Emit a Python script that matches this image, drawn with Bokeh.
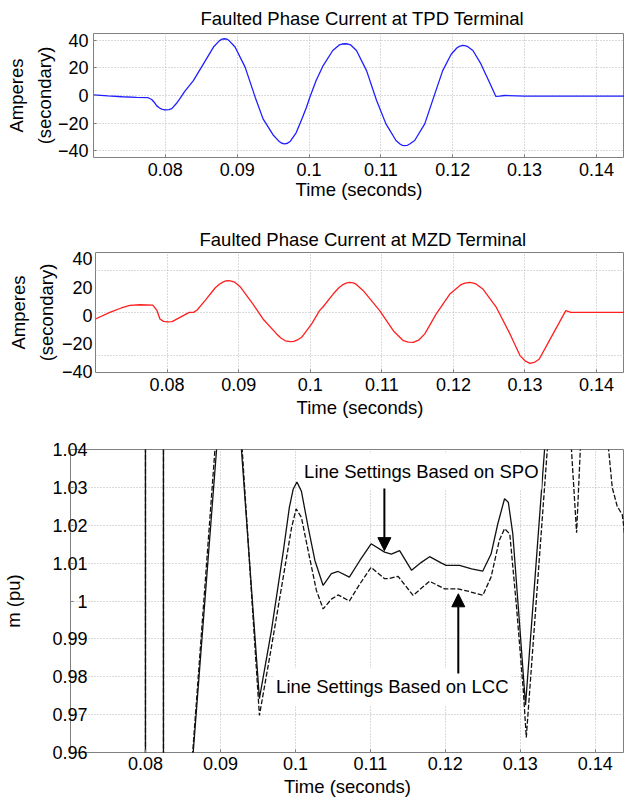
from bokeh.plotting import figure
from bokeh.models import (Range1d, FixedTicker, NumeralTickFormatter, Label,
                          Arrow, NormalHead)
from bokeh.embed import file_html
from bokeh.resources import INLINE

FONT = "Liberation Sans"

# ---------------- data ----------------
time_ticks = [0.08, 0.09, 0.10, 0.11, 0.12, 0.13, 0.14]
amp_ticks = [-40, -20, 0, 20, 40]
amp_labels = {-40: "\u221240", -20: "\u221220"}
mzd_grid_ticks = [32.0, 1.7, -28.6]
m_ticks = [0.96, 0.97, 0.98, 0.99, 1.00, 1.01, 1.02, 1.03, 1.04]
m_labels = {0.96: "0.96", 0.97: "0.97", 0.98: "0.98", 0.99: "0.99", 1.00: "1",
            1.01: "1.01", 1.02: "1.02", 1.03: "1.03", 1.04: "1.04"}

tpd_time = [0.0700, 0.0720, 0.0740, 0.0760, 0.0776, 0.0781, 0.0785, 0.0788,
            0.0792, 0.0795, 0.0798, 0.0801, 0.0805, 0.0809, 0.0815, 0.0820,
            0.0827, 0.0839, 0.0853, 0.0867, 0.0875, 0.0879, 0.0882, 0.0886,
            0.0889, 0.0897, 0.0911, 0.0925, 0.0936, 0.0950, 0.0958, 0.0962,
            0.0966, 0.0970, 0.0974, 0.0982, 0.0990, 0.0996, 0.1002, 0.1010,
            0.1019, 0.1033, 0.1042, 0.1046, 0.1050, 0.1054, 0.1058, 0.1066,
            0.1080, 0.1094, 0.1107, 0.1121, 0.1127, 0.1130, 0.1133, 0.1137,
            0.1140, 0.1147, 0.1161, 0.1175, 0.1186, 0.1198, 0.1206, 0.1210,
            0.1214, 0.1218, 0.1221, 0.1228, 0.1239, 0.1251, 0.1260, 0.1265,
            0.1272, 0.1300, 0.1450]
tpd_amps = [0.5, -0.3, -0.9, -1.3, -1.6, -2.9, -5.2, -7.5,
            -9.0, -9.8, -10.3, -10.4, -10.2, -9.5, -6.0, -2.4,
            3.0, 10.8, 22.9, 35.0, 39.5, 40.7, 41.0, 40.7,
            39.5, 35.0, 20.5, -1.2, -16.9, -28.5, -33.0, -34.5,
            -35.0, -34.5, -33.0, -27.0, -17.0, -9.0, 0.0, 11.0,
            21.0, 32.5, 36.5, 37.2, 37.4, 37.2, 36.5, 32.5,
            18.0, -3.6, -20.5, -32.5, -35.2, -36.0, -36.2, -36.0,
            -35.0, -32.5, -20.5, 1.2, 18.0, 30.0, 34.5, 35.7,
            36.2, 35.9, 35.3, 32.5, 23.0, 9.6, -0.7, -0.5,
            0.0, -0.5, -0.5]

mzd_time = [0.0700, 0.0720, 0.0736, 0.0748, 0.0762, 0.0780, 0.0786, 0.0790,
            0.0795, 0.0801, 0.0807, 0.0818, 0.0831, 0.0837, 0.0842, 0.0853,
            0.0867, 0.0873, 0.0878, 0.0882, 0.0886, 0.0890, 0.0894, 0.0898,
            0.0902, 0.0920, 0.0934, 0.0953, 0.0959, 0.0965, 0.0972, 0.0977,
            0.0982, 0.0988, 0.1002, 0.1013, 0.1018, 0.1032, 0.1040, 0.1045,
            0.1050, 0.1055, 0.1060, 0.1064, 0.1074, 0.1097, 0.1116, 0.1130,
            0.1137, 0.1144, 0.1152, 0.1160, 0.1176, 0.1195, 0.1210, 0.1216,
            0.1223, 0.1228, 0.1232, 0.1241, 0.1260, 0.1279, 0.1293, 0.1300,
            0.1307, 0.1314, 0.1320, 0.1334, 0.1348, 0.1357, 0.1364, 0.1450]
mzd_amps = [-2.7, 2.0, 5.1, 7.0, 7.4, 7.2, 3.2, -2.7,
            -4.4, -4.8, -4.6, -1.6, 2.0, 2.0, 3.7, 10.3,
            19.3, 22.0, 23.5, 24.3, 24.5, 24.2, 23.5, 22.0,
            20.2, 7.9, -2.7, -13.3, -16.2, -18.2, -18.8, -18.6,
            -17.6, -15.7, -6.2, 3.2, 6.0, 15.0, 19.5, 21.5,
            22.8, 23.3, 22.9, 22.0, 17.4, 3.2, -11.0, -18.1,
            -19.1, -19.3, -17.5, -13.3, 0.9, 15.0, 21.5, 22.8,
            23.3, 22.8, 22.0, 18.6, 5.5, -13.3, -28.7, -32.4,
            -34.2, -33.3, -31.1, -18.1, -5.1, 3.2, 2.0, 2.0]

spo_time = [0.0700, 0.0800, 0.0800, 0.0824, 0.0824, 0.0850, 0.0912, 0.0952,
            0.0968, 0.0984, 0.0992, 0.0997, 0.1002, 0.1008, 0.1017, 0.1026,
            0.1037, 0.1048, 0.1057, 0.1072, 0.1086, 0.1101, 0.1119, 0.1128,
            0.1139, 0.1155, 0.1168, 0.1179, 0.1195, 0.1201, 0.1219, 0.1235,
            0.1250, 0.1261, 0.1270, 0.1279, 0.1284, 0.1290, 0.1299, 0.1307,
            0.1345, 0.1450]
spo_m = [0.900, 0.900, 1.100, 1.100, 0.900, 0.925, 1.084, 0.9742,
         0.9922, 1.0133, 1.0248, 1.0295, 1.0314, 1.0290, 1.0195, 1.0107,
         1.0041, 1.0072, 1.0078, 1.0063, 1.0107, 1.0151, 1.0129, 1.0124,
         1.0133, 1.0081, 1.0102, 1.0117, 1.0100, 1.0094, 1.0094, 1.0085,
         1.0079, 1.0124, 1.0204, 1.0270, 1.0261, 1.0177, 0.9940, 0.9725,
         1.0736, 1.0800]

lcc_time = [0.0700, 0.0800, 0.0800, 0.0824, 0.0824, 0.0850, 0.0912, 0.0952,
            0.0968, 0.0986, 0.0995, 0.1001, 0.1008, 0.1017, 0.1028, 0.1037,
            0.1048, 0.1057, 0.1072, 0.1086, 0.1101, 0.1119, 0.1124, 0.1137,
            0.1157, 0.1179, 0.1199, 0.1217, 0.1230, 0.1250, 0.1261, 0.1272,
            0.1279, 0.1286, 0.1295, 0.1304, 0.1308, 0.1345, 0.1355, 0.1362,
            0.13751, 0.1385, 0.1400, 0.1412, 0.14227, 0.14293, 0.1436, 0.14383,
            0.1445]
lcc_m = [0.900, 0.900, 1.100, 1.100, 0.900, 0.925, 1.092, 0.9698,
         0.9878, 1.0089, 1.0195, 1.0243, 1.0221, 1.0133, 1.0028, 0.9979,
         1.0005, 1.0016, 1.0000, 1.0045, 1.0089, 1.0059, 1.0059, 1.0065,
         1.0015, 1.0052, 1.0032, 1.0032, 1.0026, 1.0015, 1.0063, 1.0160,
         1.0191, 1.0177, 0.9984, 0.9764, 0.9640, 1.0643, 1.0750, 1.0600,
         1.0180, 1.0620, 1.0900, 1.0520, 1.0299, 1.0250, 1.0228, 1.0193,
         1.0050]

annot_text = ["Line Settings Based on SPO", "Line Settings Based on LCC"]
annot_x = [0.1168, 0.11293]
annot_y = [1.0343, 0.97743]
arrow_x = [0.11187, 0.12173]
arrow_y_start = [1.0297, 0.98086]
arrow_y_end = [1.0133, 1.0019]

X_RANGE = (0.07, 0.1439)
FRAME = "#808080"
GRID = "#b4b4b4"


def make_fig(height, left, top, bottom, y_range, title=None):
    p = figure(width=624, height=height, output_backend="svg",
               toolbar_location=None, title=title,
               x_range=Range1d(*X_RANGE), y_range=Range1d(*y_range),
               min_border_left=left, min_border_right=0,
               min_border_top=top, min_border_bottom=bottom)
    p.outline_line_color = FRAME
    p.outline_line_width = 1
    p.background_fill_color = "white"
    p.border_fill_color = "white"
    for ax in (p.xaxis[0], p.yaxis[0]):
        ax.axis_line_color = None
        ax.major_tick_in = 3
        ax.major_tick_out = 0
        ax.major_tick_line_color = FRAME
        ax.minor_tick_line_color = None
        ax.major_label_text_font = FONT
        ax.major_label_text_font_size = "18px"
        ax.major_label_text_color = "black"
        ax.axis_label_text_font = FONT
        ax.axis_label_text_font_size = "18.5px"
        ax.axis_label_text_font_style = "normal"
        ax.axis_label_text_color = "black"
    p.xaxis.ticker = FixedTicker(ticks=time_ticks)
    p.xaxis.formatter = NumeralTickFormatter(format="0.[00]")
    p.xaxis.major_label_standoff = 5
    p.xaxis.axis_label = "Time (seconds)"
    p.xaxis.axis_label_standoff = 0
    for g in (p.xgrid[0], p.ygrid[0]):
        g.grid_line_color = GRID
        g.grid_line_dash = "1 2"
        g.grid_line_width = 1
    if title is not None:
        p.title.text_font = FONT
        p.title.text_font_size = "18.5px"
        p.title.text_font_style = "normal"
        p.title.text_color = "black"
        p.title.align = "left"
    return p


# ---- top: TPD ----
p1 = make_fig(210, 93, 33, 53, (-44.8, 44.8),
              title="Faulted Phase Current at TPD Terminal")
p1.title.offset = 107
p1.title.standoff = 10
p1.yaxis.ticker = FixedTicker(ticks=amp_ticks)
p1.yaxis.major_label_overrides = amp_labels
p1.yaxis.major_label_standoff = 5
p1.yaxis.axis_label = "Amperes\n(secondary)"
p1.yaxis.axis_label_standoff = 0
p1.yaxis.axis_label_text_line_height = 1.35
p1.line(tpd_time, tpd_amps, line_color="#1f1fff", line_width=1.3)

# ---- middle: MZD ----
p2 = make_fig(218, 95, 42, 56, (-40.7, 44.5),
              title="Faulted Phase Current at MZD Terminal")
p2.title.offset = 104
p2.title.standoff = 5
p2.yaxis.ticker = FixedTicker(ticks=amp_ticks)
p2.ygrid.ticker = FixedTicker(ticks=mzd_grid_ticks)
p2.yaxis.major_label_overrides = amp_labels
p2.yaxis.major_label_standoff = 3
p2.yaxis.major_tick_in = 0
p2.yaxis.axis_label = "Amperes\n(secondary)"
p2.yaxis.axis_label_standoff = 2
p2.yaxis.axis_label_text_line_height = 1.35
p2.xaxis.axis_label_standoff = 3
p2.line(mzd_time, mzd_amps, line_color="#ff1f1f", line_width=1.3)

# ---- bottom: m (pu) ----
p3 = make_fig(373, 69, 21, 49, (0.96, 1.04))
p3.yaxis.ticker = FixedTicker(ticks=m_ticks)
p3.yaxis.major_label_overrides = m_labels
p3.yaxis.major_label_standoff = -17
p3.yaxis.axis_label = "m (pu)"
p3.yaxis.axis_label_standoff = 25
p3.xaxis.major_label_standoff = 4
p3.xaxis.axis_label_standoff = 3

p3.line(spo_time, spo_m, line_color="#111111", line_width=1.3)
p3.line(lcc_time, lcc_m, line_color="#111111", line_width=1.3,
        line_dash="5 2")

for txt, xx, yy in zip(annot_text, annot_x, annot_y):
    p3.add_layout(Label(x=xx, y=yy, text=txt, text_align="center",
                        text_baseline="middle", text_font=FONT,
                        text_font_size="18.5px", text_color="black",
                        background_fill_color="white",
                        padding=dict(x=3, y=8)))

for xx, y0, y1 in zip(arrow_x, arrow_y_start, arrow_y_end):
    p3.add_layout(Arrow(end=NormalHead(size=13, fill_color="black",
                                       line_color="black", line_width=1),
                        x_start=xx, y_start=y0, x_end=xx, y_end=y1,
                        line_color="black", line_width=2))

open("out.html", "w").write(file_html([p1, p2, p3], INLINE))
